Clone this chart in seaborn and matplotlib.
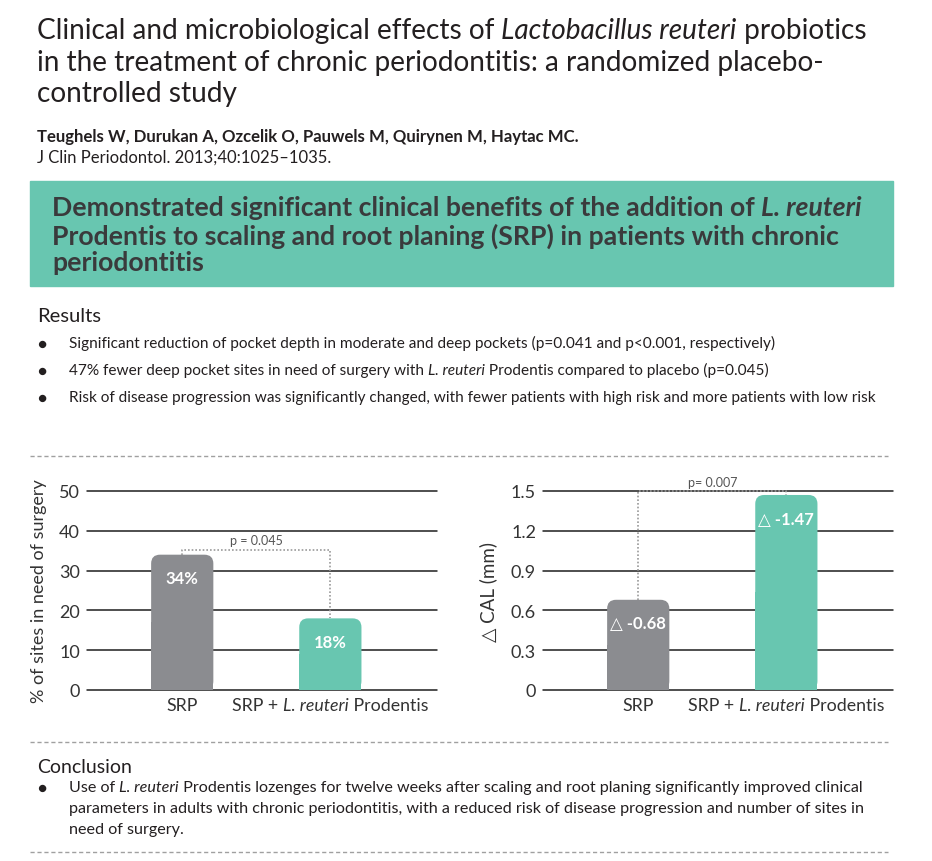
"""
Teughels et al. 2013 summary sheet: L. reuteri Prodentis vs SRP
"""

import matplotlib
matplotlib.use("Agg")
import matplotlib.pyplot as plt
import seaborn as sns
from matplotlib.patches import FancyBboxPatch, Rectangle
from matplotlib.lines import Line2D

# data
groups = ["SRP", "SRP + L. reuteri Prodentis"]
sites_surgery = [34, 18]          # % of sites in need of surgery
sites_labels = ["34%", "18%"]
cal_gain = [0.68, 1.47]           # delta CAL (mm)
cal_labels = ["\u25b3 -0.68", "\u25b3 -1.47"]
p_sites = "p = 0.045"
p_cal = "p= 0.007"
yticks_sites = [0, 10, 20, 30, 40, 50]
yticks_cal = [0, 0.3, 0.6, 0.9, 1.2, 1.5]

GRAY = "#8b8c90"
TEAL = "#68c6b0"
INK = "#231f20"
FONT = ["Lato", "DejaVu Sans"]

W, H = 932, 862
sns.set_theme(style="white")
plt.rcParams["font.family"] = FONT

fig = plt.figure(figsize=(W / 100, H / 100), dpi=100)
renderer = fig.canvas.get_renderer()


def fx(x):
    return x / W


def fy(y):
    return 1 - y / H


def runs(parts, x, y, size, color=INK, weight="normal", ha="left"):
    # draw a line made of text pieces, each (text, style)
    texts = []
    for s, style in parts:
        t = fig.text(0, 0, s, fontsize=size, fontstyle=style, fontweight=weight,
                     color=color, va="baseline", family=FONT)
        texts.append(t)
    widths = [t.get_window_extent(renderer).width for t in texts]
    x0 = x - sum(widths) / 2 if ha == "center" else x
    for t, w in zip(texts, widths):
        t.set_position((fx(x0), fy(y)))
        x0 += w


# header
runs([("Clinical and microbiological effects of ", "normal"),
      ("Lactobacillus reuteri", "italic"), (" probiotics", "normal")],
     37, 39, 20.2)
runs([("in the treatment of chronic periodontitis: a randomized placebo-", "normal")],
     37, 71, 20.2)
runs([("controlled study", "normal")], 37, 102, 20.2)
runs([("Teughels W, Durukan A, Ozcelik O, Pauwels M, Quirynen M, Haytac MC.", "normal")],
     37, 142, 12.1, weight="bold")
runs([("J Clin Periodontol. 2013;40:1025\u20131035.", "normal")], 37, 163, 12)

fig.patches.append(Rectangle((fx(30), fy(287)), fx(893) - fx(30), fy(182) - fy(287),
                             transform=fig.transFigure, color=TEAL, zorder=0))
runs([("Demonstrated significant clinical benefits of the addition of ", "normal"),
      ("L. reuteri", "italic")], 52, 216, 19.2, color="#3a3a3c", weight="bold")
runs([("Prodentis to scaling and root planing (SRP) in patients with chronic", "normal")],
     52, 245, 19.2, color="#3a3a3c", weight="bold")
runs([("periodontitis", "normal")], 52, 271, 19.2, color="#3a3a3c", weight="bold")

# results
runs([("Results", "normal")], 37, 322, 14.5)
bullets = [
    [("Significant reduction of pocket depth in moderate and deep pockets (p=0.041 and p<0.001, respectively)", "normal")],
    [("47% fewer deep pocket sites in need of surgery with ", "normal"), ("L. reuteri", "italic"),
     (" Prodentis compared to placebo (p=0.045)", "normal")],
    [("Risk of disease progression was significantly changed, with fewer patients with high risk and more patients with low risk", "normal")],
]
for i, b in enumerate(bullets):
    yb = 348 + i * 27
    fig.text(fx(42), fy(yb - 3), "\u25cf", fontsize=11, color=INK, ha="center", va="center")
    runs(b, 69, yb, 11.1)

# separators
for ys in (457, 743, 853):
    fig.add_artist(Line2D([fx(30), fx(888)], [fy(ys), fy(ys)], color="#a0a0a0",
                          lw=1, ls=(0, (3, 2)), transform=fig.transFigure))


def bar_panel(ax, vals, labels, ticks, ticklabels, ylabel, label_size, label_x):
    sns.barplot(x=groups, y=vals, hue=groups, palette=[GRAY, TEAL], width=0.42,
                saturation=1, legend=False, ax=ax)
    ax.set_xlim(-0.643, 1.72)
    ax.set_ylim(0, ticks[-1])
    # rounded tops
    px_x = 350 / 2.363
    px_y = 199 / ticks[-1]
    asp = px_x / px_y
    for p in list(ax.patches):
        x, w, h, c = p.get_x(), p.get_width(), p.get_height(), p.get_facecolor()
        p.remove()
        ax.add_patch(FancyBboxPatch((x, 0), w, h, boxstyle="round,pad=0,rounding_size=0.06",
                                    mutation_aspect=asp, fc=c, ec="none", zorder=2))
        ax.add_patch(Rectangle((x, 0), w, h / 2, fc=c, ec="none", zorder=2))
    for t in ticks:
        ax.axhline(t, color="#1e1e1e", lw=1.1, zorder=1, clip_on=False)
    ax.set_yticks(ticks)
    ax.set_yticklabels(ticklabels, fontsize=13, color="#333333")
    ax.tick_params(length=0, pad=5)
    ax.set_xticks([0, 1])
    ax.set_xticklabels(["", ""])
    sns.despine(ax=ax, left=True, bottom=True)
    ax.set_ylabel(ylabel, fontsize=label_size, color="#333333")
    ax.yaxis.set_label_coords(label_x, 0.5)
    for i, (v, lab) in enumerate(zip(vals, labels)):
        ax.annotate(lab, (i, v), xytext=(0, -17), textcoords="offset points",
                    ha="center", va="center", color="white", fontsize=12,
                    fontweight="bold", family=FONT, zorder=3)


ax1 = fig.add_axes([fx(87), fy(691), 350 / W, 199 / H])
bar_panel(ax1, sites_surgery, sites_labels, yticks_sites,
          [str(t) for t in yticks_sites], "% of sites in need of surgery", 13, -0.115)
ax2 = fig.add_axes([fx(543), fy(691), 350 / W, 199 / H])
bar_panel(ax2, cal_gain, cal_labels, yticks_cal,
          ["0", "0.3", "0.6", "0.9", "1.2", "1.5"], "\u25b3 CAL (mm)", 13.5, -0.13)

# significance brackets
dot = dict(color="#9a9a9a", lw=1.2, ls=(0, (1, 1.2)), zorder=2, clip_on=False)
ax1.plot([0, 0, 1, 1], [sites_surgery[0], 35.3, 35.3, sites_surgery[1]], **dot)
ax1.text(0.5, 36.2, p_sites, ha="center", va="bottom", fontsize=9, color="#555555")
ax2.plot([0, 0, 1, 1], [cal_gain[0], 1.5, 1.5, cal_gain[1]], **dot)
ax2.text(0.5, 1.52, p_cal, ha="center", va="bottom", fontsize=9, color="#555555")

# x labels with italic species
for ax, left in ((ax1, 87), (ax2, 543)):
    for i, g in enumerate(groups):
        xc = left + (i + 0.643) * 350 / 2.363
        if i == 0:
            runs([(g, "normal")], xc, 711, 12.8, color="#333333", ha="center")
        else:
            runs([("SRP + ", "normal"), ("L. reuteri", "italic"), (" Prodentis", "normal")],
                 xc, 711, 12.8, color="#333333", ha="center")

# conclusion
runs([("Conclusion", "normal")], 37, 773, 14)
fig.text(fx(42), fy(789), "\u25cf", fontsize=11, color=INK, ha="center", va="center")
runs([("Use of ", "normal"), ("L. reuteri", "italic"),
      (" Prodentis lozenges for twelve weeks after scaling and root planing significantly improved clinical", "normal")],
     69, 792, 11.6)
runs([("parameters in adults with chronic periodontitis, with a reduced risk of disease progression and number of sites in", "normal")],
     69, 813, 11.6)
runs([("need of surgery.", "normal")], 69, 834, 11.6)

fig.savefig("out.png", dpi=100)
